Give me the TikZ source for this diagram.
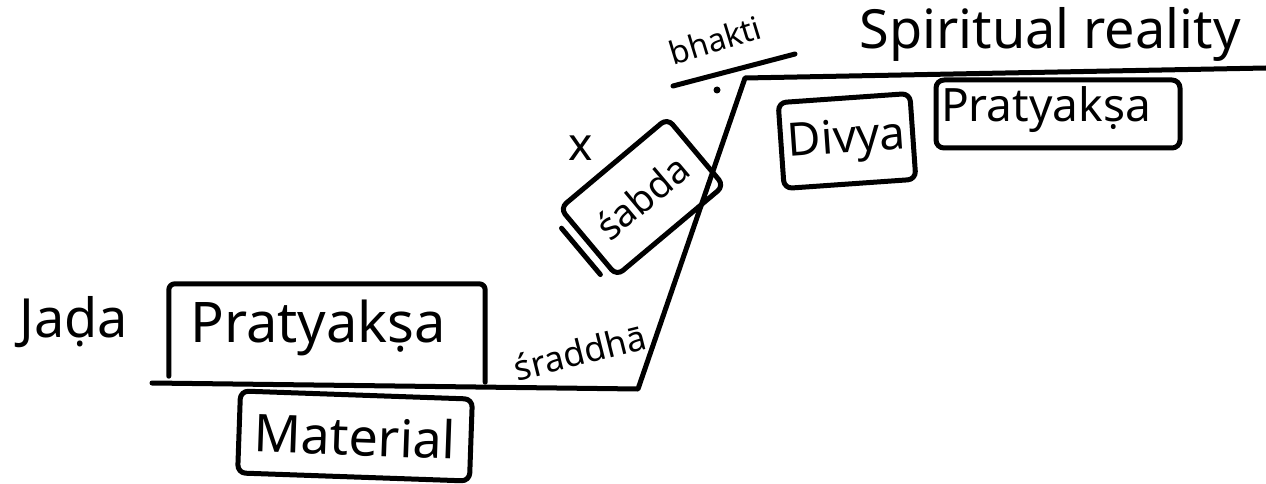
\documentclass[tikz,border=0pt]{standalone}
\usepackage{fontspec}
\setmainfont{Noto Sans}
\usetikzlibrary{calc}
\tikzset{
  ink/.style={line width=5pt, line cap=round, line join=round, black},
  lbl/.style={inner sep=0pt, font=\fontsize{#1}{#1}\selectfont},
  boxd/.style={ink, rounded corners=8pt, inner sep=0pt},
}
\begin{document}
\begin{tikzpicture}[x=1pt,y=-1pt]
\useasboundingbox (0,0) rectangle (1266,484);
% main line
\coordinate (a) at (152,383);
\coordinate (b) at (638,389);
\coordinate (c) at (745,78);
\coordinate (d) at (1266,68);
\draw[ink] (a) -- (b) -- (c) -- (d);

% lower left
\node[lbl=54] (jada) at (74,322) {Jaḍa};
\node[inner sep=0pt, minimum width=316pt, minimum height=92pt] (p1) at (327,330) {};
\node[lbl=56] (p1t) at (318,328) {Pratyakṣa};
\draw[ink, rounded corners=6pt] (p1.south west) -- (p1.north west) -- (p1.north east) -- ([yshift=-6pt]p1.south east);
\node[boxd, draw, minimum width=232pt, minimum height=82pt, rotate=-2, font=\fontsize{52}{52}\selectfont] (mat) at (355,436) {Material};

% sraddha
\node[lbl=35, rotate=14] (sr) at (580,352) {śraddhā};

% sabda
\node[boxd, draw, minimum width=140pt, minimum height=88pt, rotate=40, font=\fontsize{38}{38}\selectfont] (sb) at (642,197) {śabda};
\draw[ink] ($($(sb.north west)!0.2!(sb.south west)$)+(-7,6)$) -- ($($(sb.north west)!0.85!(sb.south west)$)+(-7,6)$);
\node[lbl=46] (x) at (581,148) {x};

% bhakti
\node[lbl=32, rotate=17] (bh) at (715,40) {bhakti};
\coordinate (u1) at (673,86);
\coordinate (u2) at (795,54);
\draw[ink] (u1) -- (u2);
\fill (717,90) circle (3.5pt);

% upper right
\node[lbl=54] (sp) at (1050,34) {Spiritual reality};
\node[boxd, draw, minimum width=132pt, minimum height=86pt, rotate=4, font=\fontsize{46}{46}\selectfont] (div) at (847,141) {Divya};
\node[boxd, draw, minimum width=244pt, minimum height=68pt] (p2) at (1058,114) {};
\node[lbl=46] (p2t) at (1046,110) {Pratyakṣa};
\end{tikzpicture}
\end{document}
